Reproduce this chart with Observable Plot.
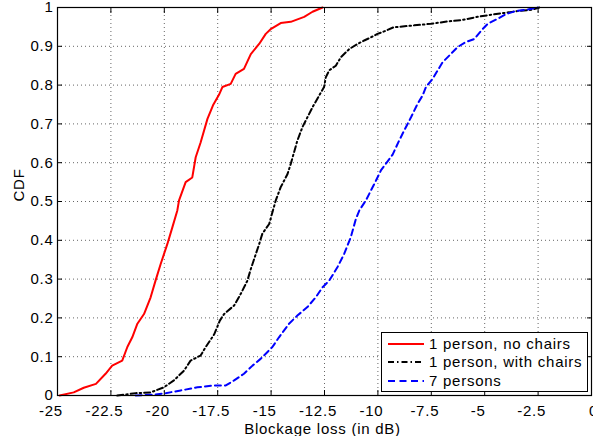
<!DOCTYPE html>
<html><head><meta charset="utf-8">
<script src="https://cdn.jsdelivr.net/npm/d3@7"></script>
<script src="https://cdn.jsdelivr.net/npm/@observablehq/plot@0.6"></script>
<style>
body{margin:0;background:#fff;}
#chart{position:relative;width:593px;height:436px;overflow:hidden;font-family:"Liberation Sans",Arial,sans-serif;}
#legend{position:absolute;left:381px;top:332px;width:205px;height:58px;border:1px solid #000;background:#fff;}
.row{position:absolute;left:6px;height:18px;display:flex;align-items:center;font-size:15px;letter-spacing:0.75px;color:#000;white-space:nowrap;}
.row svg{margin-right:5px;}
</style></head><body><div id="chart"></div>
<script>
const xTicks = [-25, -22.5, -20, -17.5, -15, -12.5, -10, -7.5, -5, -2.5, 0];
const yTicks = [0, 0.1, 0.2, 0.3, 0.4, 0.5, 0.6, 0.7, 0.8, 0.9, 1];
const seriesNames = ["1 person, no chairs", "1 person, with chairs", "7 persons"];
const seriesColors = ["#ff0000", "#000000", "#0000ff"];
const seriesDash = [null, "6,3,1.5,3", "6,4"];

const noChairsX = [-24.9,-24.24,-23.77,-23.2,-22.75,-22.44,-21.97,-21.73,-21.5,-21.26,-20.95,-20.64,-20.41,-20.17,-19.86,-19.62,-19.39,-19.31,-19.0,-18.69,-18.53,-18.3,-17.98,-17.72,-17.44,-17.28,-16.89,-16.66,-16.27,-15.95,-15.56,-15.25,-15.0,-14.55,-14.08,-13.45,-13.06,-12.59];
const noChairsY = [0,0.008,0.02,0.03,0.056,0.077,0.09,0.125,0.15,0.185,0.21,0.253,0.296,0.339,0.39,0.434,0.477,0.503,0.55,0.562,0.614,0.652,0.713,0.748,0.775,0.795,0.803,0.829,0.842,0.88,0.906,0.932,0.945,0.96,0.963,0.976,0.989,1.0];

const withChairsX = [-22.2,-21.34,-20.64,-20.02,-19.55,-19.08,-18.77,-18.3,-18.06,-17.67,-17.4,-17.2,-16.73,-16.42,-16.11,-15.95,-15.56,-15.41,-15.09,-14.94,-14.78,-14.55,-14.23,-14.08,-13.77,-13.53,-13.3,-13.06,-12.75,-12.52,-12.44,-12.28,-11.97,-11.73,-11.34,-10.95,-10.64,-10.33,-10.02,-9.63,-9.27,-8.3,-7.52,-6.73,-6.03,-5.33,-4.86,-4.08,-3.45,-2.83,-2.44];
const withChairsY = [0,0.006,0.008,0.021,0.039,0.064,0.09,0.103,0.125,0.157,0.193,0.21,0.232,0.262,0.296,0.326,0.39,0.417,0.442,0.472,0.503,0.537,0.571,0.597,0.657,0.692,0.717,0.743,0.773,0.795,0.82,0.838,0.85,0.872,0.893,0.906,0.915,0.923,0.932,0.94,0.949,0.954,0.958,0.964,0.968,0.976,0.98,0.986,0.991,0.994,1.0];

const sevenX = [-21.34,-20.48,-19.94,-19.23,-18.45,-17.67,-17.12,-16.73,-16.27,-15.87,-15.48,-14.94,-14.63,-14.16,-13.77,-13.3,-12.91,-12.59,-12.28,-11.89,-11.58,-11.27,-11.03,-10.87,-10.56,-10.33,-10.09,-9.86,-9.63,-9.31,-9.04,-8.77,-8.45,-8.14,-7.91,-7.75,-7.44,-7.2,-6.97,-6.66,-6.27,-5.88,-5.48,-5.17,-4.86,-4.39,-4.0,-3.53,-2.98,-2.52];
const sevenY = [0,0.002,0.006,0.013,0.021,0.026,0.026,0.039,0.056,0.077,0.095,0.125,0.15,0.185,0.206,0.228,0.253,0.279,0.296,0.331,0.365,0.408,0.455,0.477,0.503,0.528,0.554,0.58,0.597,0.621,0.653,0.683,0.717,0.752,0.773,0.795,0.816,0.838,0.859,0.876,0.898,0.911,0.919,0.94,0.958,0.971,0.983,0.991,0.995,1.0];

const xLabel = "Blockage loss (in dB)";
const yLabel = "CDF";

const seriesX = [noChairsX, withChairsX, sevenX];
const seriesY = [noChairsY, withChairsY, sevenY];
const lines = seriesX.map((xs, i) => Plot.line(xs.map((x, j) => ({x, y: seriesY[i][j]})), {
  x: "x", y: "y", stroke: seriesColors[i], strokeWidth: 2, strokeDasharray: seriesDash[i] || undefined
}));

const gridStyle = {stroke: "#666", strokeOpacity: 1, strokeWidth: 1, strokeDasharray: "1,3"};
const fmt = d => String(d);

const plot = Plot.plot({
  width: 593, height: 436,
  marginLeft: 57, marginRight: 2, marginTop: 7, marginBottom: 41,
  style: {fontFamily: "'Liberation Sans', Arial, sans-serif", fontSize: "15px", letterSpacing: "0.75px", color: "#000", background: "#fff", overflow: "visible"},
  x: {domain: [-25, 0]},
  y: {domain: [0, 1]},
  marks: [
    Plot.gridX(xTicks.slice(1, -1), gridStyle),
    Plot.gridY(yTicks.slice(1, -1), gridStyle),
    ...lines,
    Plot.frame({stroke: "#000", strokeWidth: 1.2}),
    Plot.axisX(xTicks, {anchor: "bottom", tickSize: -5, tickFormat: () => "", label: null, strokeWidth: 1}),
    Plot.axisX(xTicks, {anchor: "top", tickSize: -5, tickFormat: () => "", label: null, strokeWidth: 1}),
    Plot.axisY(yTicks, {anchor: "left", tickSize: -5, tickFormat: () => "", label: null, strokeWidth: 1}),
    Plot.axisY(yTicks, {anchor: "right", tickSize: -5, tickFormat: () => "", label: null, strokeWidth: 1}),
    Plot.axisX(xTicks.filter(d => d !== 0), {anchor: "bottom", tickSize: 0, tickPadding: 10, tickFormat: fmt, label: null, dx: -6.5}),
    Plot.axisX(xTicks.filter(d => d === 0), {anchor: "bottom", tickSize: 0, tickPadding: 10, tickFormat: fmt, label: null, dx: 2}),
    Plot.axisY(yTicks, {anchor: "left", tickSize: 0, tickPadding: 4, tickFormat: fmt, label: null}),
    Plot.text([xLabel], {text: d => d, frameAnchor: "bottom", lineAnchor: "bottom", dy: 38, dx: -2}),
    Plot.text([yLabel], {text: d => d, frameAnchor: "left", rotate: -90, dx: -38})
  ]
});
const chart = document.getElementById("chart");
chart.appendChild(plot);

const legend = document.createElement("div");
legend.id = "legend";
const rowTops = [1.5, 19.5, 38.5];
seriesNames.forEach((name, i) => {
  const row = document.createElement("div");
  row.className = "row";
  row.style.top = rowTops[i] + "px";
  const dash = i === 1 ? "6,3,1.5,3" : i === 2 ? "7,4.5" : "";
  row.innerHTML = `<svg width="36" height="6"><line x1="0" x2="36" y1="3" y2="3" stroke="${seriesColors[i]}" stroke-width="2" ${dash ? `stroke-dasharray="${dash}"` : ""}/></svg><span>${name}</span>`;
  legend.appendChild(row);
});
chart.appendChild(legend);
</script>
</body></html>
